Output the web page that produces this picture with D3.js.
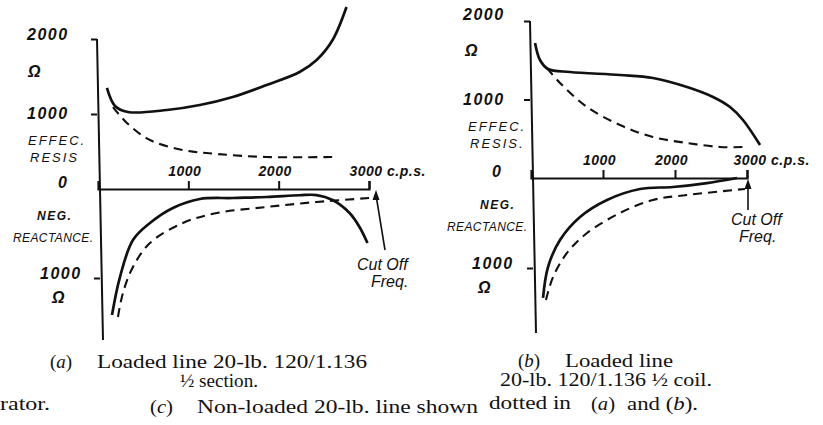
<!DOCTYPE html>
<html>
<head>
<meta charset="utf-8">
<script src="https://cdn.jsdelivr.net/npm/d3@7"></script>
<style>
  body { margin: 0; background: #fff; }
  .lbl { font-family: "Liberation Sans", sans-serif; font-style: italic; fill: #111; }
  .cap { font-family: "Liberation Serif", serif; font-size: 19px; fill: #111; }
</style>
</head>
<body>
<svg id="chart" width="823" height="425"></svg>
<script>
// frequency ticks (c.p.s.) and ohm ticks
const freqTicks = [1000, 2000, 3000];
const resTicks = [1000, 2000];
const reactTicks = [1000];

// (a) loaded line, half section  -- [freq, ohms]
const aResLoaded = [[99,1347],[188,1107],[331,1027],[762,1053],[1127,1120],[1492,1227],[1867,1387],[2232,1560],[2420,1720],[2597,1987],[2751,2427]];
const aResPlain = [[166,1093],[320,880],[575,653],[939,520],[1315,467],[1867,427],[2641,427]];
const aReactLoaded = [[155,1416],[243,989],[387,573],[575,382],[829,213],[1127,112],[1492,101],[1867,90],[2232,70],[2420,68],[2597,124],[2785,270],[2895,427],[2983,607]];
const aReactPlain = [[221,1438],[276,1169],[387,876],[575,607],[939,382],[1315,270],[1867,202],[2420,146],[3006,101]];

// (b) loaded line, half coil
const bResLoaded = [[56,1720],[125,1503],[236,1389],[542,1350],[1236,1312],[1694,1274],[2167,1159],[2528,1032],[2764,904],[2944,739],[3181,420]];
const bResPlain = [[222,1401],[403,1210],[778,904],[1236,675],[1694,522],[2167,446],[2625,395],[2972,395]];
const bReactLoaded = [[167,1333],[236,989],[403,689],[681,433],[1056,244],[1514,122],[1972,100],[2444,56],[2861,0]];
const bReactPlain = [[208,1356],[306,1100],[500,833],[778,611],[1236,389],[1694,244],[2167,189],[2972,122]];

// caption pieces: text, x, baseline, width  (letters in brackets go italic)
const captions = [
    ["(a)", 50, 368, 22],
    ["Loaded line 20-lb. 120/1.136", 97, 368, 270],
    ["½ section.", 180, 387, 78],
    ["(b)", 518, 367, 22],
    ["Loaded line", 565, 367, 108],
    ["20-lb. 120/1.136 ½ coil.", 500, 386, 212],
    ["rator.", 0, 410, 50],
    ["(c)", 150, 413, 23],
    ["Non-loaded 20-lb. line shown", 197, 413, 281],
    ["dotted in", 489, 409, 82],
    ["(a)", 591, 410, 24],
    ["and (b).", 627, 410, 71]
];

const svg = d3.select("#chart");

function drawPanel(p) {
    const x = d3.scaleLinear().domain([0, 3000]).range(p.xr);
    const yRes = d3.scaleLinear().domain([0, 2000]).range(p.yr);
    const yReact = d3.scaleLinear().domain([0, 1000]).range(p.yn);

    const g = svg.append("g");

    // vertical axis, drawn a little off plumb like the original
    g.append("line")
        .attr("x1", p.xr[0] - 1).attr("y1", p.yr[1])
        .attr("x2", p.xr[0] + 5).attr("y2", p.bottom)
        .attr("stroke", "#111").attr("stroke-width", 2);

    g.append("g")
        .attr("transform", "translate(" + (p.xr[0] - 1) + ",0)")
        .call(d3.axisLeft(yRes).tickValues(resTicks).tickSize(6).tickFormat(""))
        .call(a => a.select(".domain").remove())
        .call(a => a.selectAll("line").attr("stroke", "#111").attr("stroke-width", 2));
    g.append("g")
        .attr("transform", "translate(" + (p.xr[0] + 2) + ",0)")
        .call(d3.axisLeft(yReact).tickValues(reactTicks).tickSize(6).tickFormat(""))
        .call(a => a.select(".domain").remove())
        .call(a => a.selectAll("line").attr("stroke", "#111").attr("stroke-width", 2));

    // frequency axis with upward ticks
    const xa = g.append("g")
        .attr("transform", "translate(0," + p.yr[0] + ")")
        .call(d3.axisTop(x).tickValues(freqTicks).tickSize(8).tickPadding(5)
            .tickFormat(d => d === 3000 ? "3000 c.p.s." : d));
    xa.select(".domain").attr("stroke", "#111").attr("stroke-width", 2.2);
    xa.selectAll("line").attr("stroke", "#111").attr("stroke-width", 2);
    xa.selectAll("text")
        .attr("class", "lbl")
        .attr("font-size", 14)
        .attr("font-weight", "bold")
        .attr("letter-spacing", 0.5)
        .attr("text-anchor", d => d === 3000 ? "start" : "middle")
        .attr("dx", d => d === 3000 ? p.dx3000 : -4);

    // left hand labels
    const L = p.labels;
    const txt = (s, xx, yy, size, bold, anchor) => g.append("text")
        .attr("class", "lbl")
        .attr("x", xx).attr("y", yy)
        .attr("font-size", size)
        .attr("font-weight", bold ? "bold" : "normal")
        .attr("text-anchor", anchor || "start")
        .text(s);
    txt("2000", L.num, yRes(2000) + L.topDy, 16, true).attr("letter-spacing", 1.5);
    txt("Ω", L.om, yRes(2000) + L.omDy, 16, true);
    txt("1000", L.num, yRes(1000) + 5, 16, true).attr("letter-spacing", 1.5);
    txt("EFFEC.", L.eff, yRes(1000) + 31, 13, false).attr("letter-spacing", 2);
    txt(p.resis, L.eff + 2, yRes(1000) + 48, 13, false).attr("letter-spacing", 2);
    txt("0", L.zero, yRes(0) - 1, 16, true);
    txt("NEG.", L.neg, yReact(0) + 31, 12, true).attr("letter-spacing", 1.5);
    txt("REACTANCE.", L.react, yReact(0) + 53, 12, false).attr("letter-spacing", 0.4);
    txt("1000", L.num2, yReact(1000) + 1, 16, true).attr("letter-spacing", 1.5);
    txt("Ω", L.om2, yReact(1000) + 25, 16, true);

    // curves
    const lineRes = d3.line().x(d => x(d[0])).y(d => yRes(d[1])).curve(d3.curveCatmullRom);
    const lineReact = d3.line().x(d => x(d[0])).y(d => yReact(d[1])).curve(d3.curveCatmullRom);
    const curves = [
        [p.resLoaded, lineRes, null],
        [p.resPlain, lineRes, "9,6"],
        [p.reactLoaded, lineReact, null],
        [p.reactPlain, lineReact, "9,6"]
    ];
    curves.forEach(c => {
        g.append("path")
            .attr("d", c[1](c[0]))
            .attr("fill", "none")
            .attr("stroke", "#111")
            .attr("stroke-width", c[2] ? 2.1 : 2.7)
            .attr("stroke-dasharray", c[2]);
    });

    // cut off arrow
    const ax = x(3000) + p.arrow.dx;
    g.append("line")
        .attr("x1", ax + p.arrow.lean).attr("y1", p.arrow.y0)
        .attr("x2", ax).attr("y2", yRes(0) + 6)
        .attr("stroke", "#111").attr("stroke-width", 1.6);
    g.append("path")
        .attr("d", "M" + ax + "," + (yRes(0) + 1) + "l-3.5,10l7,0z")
        .attr("fill", "#111");
    txt("Cut Off", p.arrow.tx, p.arrow.ty, 16, false);
    txt("Freq.", p.arrow.tx + p.arrow.fx, p.arrow.ty + 17, 16, false);
}

drawPanel({
    xr: [98, 369], yr: [189, 39], yn: [189, 278], bottom: 340,
    resis: "RESIS", dx3000: -20,
    labels: { num: 27, topDy: 1, om: 28, omDy: 38, eff: 28, zero: 58, neg: 37, react: 13, num2: 40, om2: 52 },
    resLoaded: aResLoaded, resPlain: aResPlain, reactLoaded: aReactLoaded, reactPlain: aReactPlain,
    arrow: { dx: 7, lean: 9, y0: 250, tx: 357, ty: 270, fx: 14 }
});

drawPanel({
    xr: [531, 747], yr: [178, 21], yn: [178, 268], bottom: 333,
    resis: "RESIS.", dx3000: -14,
    labels: { num: 463, topDy: -1, om: 465, omDy: 35, eff: 468, zero: 492, neg: 480, react: 447, num2: 472, om2: 478 },
    resLoaded: bResLoaded, resPlain: bResPlain, reactLoaded: bReactLoaded, reactPlain: bReactPlain,
    arrow: { dx: 1, lean: 0, y0: 210, tx: 731, ty: 225, fx: 8 }
});

// captions; the bracketed letters are set in italic
const capText = svg.selectAll("text.cap")
    .data(captions)
    .join("text")
    .attr("class", "cap")
    .attr("x", d => d[1])
    .attr("y", d => d[2])
    .attr("textLength", d => d[3])
    .attr("lengthAdjust", "spacingAndGlyphs");

capText.each(function(d) {
    const t = d3.select(this);
    d[0].split(/(\([abc]\))/).filter(s => s.length).forEach(part => {
        const m = part.match(/^\(([abc])\)$/);
        if (m) {
            t.append("tspan").text("(");
            t.append("tspan").attr("font-style", "italic").text(m[1]);
            t.append("tspan").text(")");
        } else {
            t.append("tspan").text(part);
        }
    });
});
</script>
</body>
</html>
